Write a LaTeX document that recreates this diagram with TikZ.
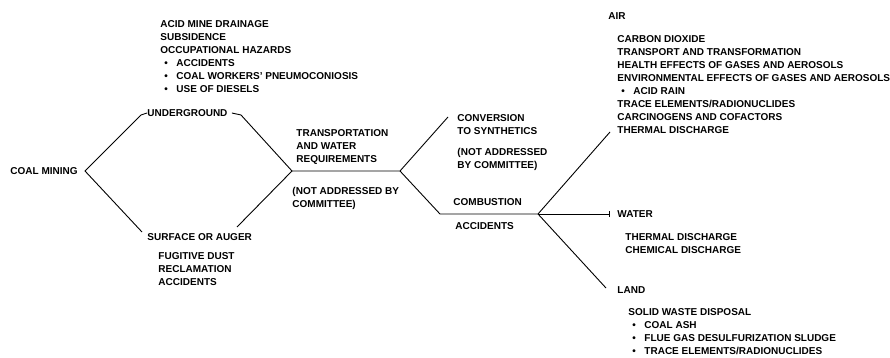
\documentclass[tikz,border=0pt]{standalone}
\usepackage{fontspec}
\setmainfont{Liberation Sans}
\usetikzlibrary{arrows.meta}
\newcommand{\blt}{\makebox[16pt][l]{\hspace{4pt}\textbullet}}

\begin{document}
\begin{tikzpicture}[x=10pt, y=-10pt, line width=0.9pt,
    every node/.style={font=\fontsize{10}{13}\selectfont\bfseries, inner sep=0pt},
    item/.style={anchor=west},
    block/.style={anchor=north west, align=left}]
    \useasboundingbox (0,0) rectangle (89,35.8);

    % mining
    \node[item] (coal) at (1.0, 17.1) {COAL MINING};
    \node[item] (ug) at (14.7, 11.3) {UNDERGROUND};
    \node[block] (minelist) at (16.0, 2.04)
      {ACID MINE DRAINAGE\\ SUBSIDENCE\\ OCCUPATIONAL HAZARDS\\
       \blt ACCIDENTS\\ \blt COAL WORKERS' PNEUMOCONIOSIS\\ \blt USE OF DIESELS};
    \node[item] (sf) at (14.7, 23.7) {SURFACE OR AUGER};
    \node[block] (sflist) at (15.8, 25.24)
      {FUGITIVE DUST\\ RECLAMATION\\ ACCIDENTS};

    % transportation
    \node[block] (trans) at (29.6, 12.94)
      {TRANSPORTATION\\ AND WATER\\ REQUIREMENTS};
    \node[block] (transna) at (29.2, 18.64) {(NOT ADDRESSED BY\\ COMMITTEE)};

    % conversion and combustion
    \node[block] (conv) at (45.7, 11.44)
      {CONVERSION\\ TO SYNTHETICS\\[8pt] (NOT ADDRESSED\\ BY COMMITTEE)};
    \node[item] (comb) at (45.3, 20.2) {COMBUSTION};
    \node[item] (acc) at (45.5, 22.6) {ACCIDENTS};

    % air, water, land
    \node[item] (air) at (60.8, 1.6) {AIR};
    \node[block] (airlist) at (61.7, 3.54)
      {CARBON DIOXIDE\\ TRANSPORT AND TRANSFORMATION\\
       HEALTH EFFECTS OF GASES AND AEROSOLS\\
       ENVIRONMENTAL EFFECTS OF GASES AND AEROSOLS\\ \blt ACID RAIN\\
       TRACE ELEMENTS/RADIONUCLIDES\\ CARCINOGENS AND COFACTORS\\
       THERMAL DISCHARGE};
    \node[item] (water) at (61.7, 21.4) {WATER};
    \node[block] (waterlist) at (62.5, 23.34)
      {THERMAL DISCHARGE\\ CHEMICAL DISCHARGE};
    \node[item] (land) at (61.7, 29.0) {LAND};
    \node[block] (landlist) at (62.8, 30.84)
      {SOLID WASTE DISPOSAL\\ \blt COAL ASH\\
       \blt FLUE GAS DESULFURIZATION SLUDGE\\ \blt TRACE ELEMENTS/RADIONUCLIDES};

    % branch points
    \coordinate (v1) at (8.5, 17.1);
    \coordinate (ugL) at (14.1, 11.5);
    \coordinate (ugR) at (24.1, 11.5);
    \coordinate (sfL) at (14.2, 23.2);
    \coordinate (sfR) at (23.7, 22.7);
    \coordinate (v2) at (29.2, 17.1);
    \coordinate (v3) at (40.0, 17.1);
    \coordinate (cvL) at (44.8, 11.7);
    \coordinate (v4) at (44.0, 21.4);
    \coordinate (v5) at (53.8, 21.4);
    \coordinate (airL) at (61.0, 13.2);
    \coordinate (landL) at (60.6, 28.8);

    \draw (ug.west) -- (ugL) -- (v1) -- (sfL);
    \draw ([xshift=4pt]ug.east) -- (ugR) -- (v2) -- (sfR);
    \draw (v2) -- (v3) -- (cvL);
    \draw (v3) -- (v4) -- (v5) -- (airL);
    \draw[-{Bar[width=6pt]}, shorten >=7pt] (v5) -- (water.west);
    \draw (v5) -- (landL);
\end{tikzpicture}
\end{document}
